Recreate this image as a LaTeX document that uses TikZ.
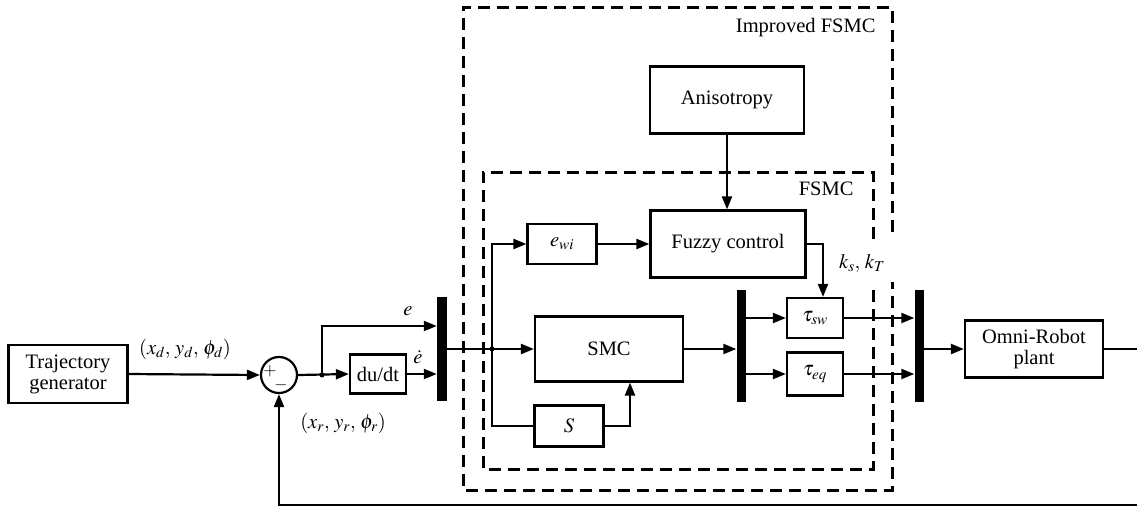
\documentclass[tikz,border=0pt]{standalone}
\usepackage{amsmath}
\usepackage{mathptmx}
\usepackage[no-math]{fontspec}
\setmainfont{Liberation Serif}
\usetikzlibrary{arrows.meta}

\tikzset{
  blk/.style={draw, line width=2.2pt, inner sep=0pt, align=center},
  bar/.style={fill=black, inner sep=0pt, minimum width=9pt},
  sig/.style={line width=2.2pt, -{Triangle[length=13pt,width=10pt]}},
  wire/.style={line width=2.2pt},
  frame/.style={line width=3pt, dash pattern=on 12pt off 7pt},
  every node/.style={font=\fontsize{20.5}{24}\selectfont}
}

\begin{document}
\begin{tikzpicture}[x=1pt, y=-1pt]
        \useasboundingbox (0,0) rectangle (1137,507);

        % dashed frames (open where k_s, k_T passes)
        \draw[frame] (892,232) -- (892,7) -- (463,7) -- (463,490) -- (892,490) -- (892,282);
        \draw[frame] (873,239) -- (873,172) -- (483,172) -- (483,469) -- (873,469) -- (873,285);
        \node[anchor=east] (lblimp) at (879,28) {Improved FSMC};
        \node[anchor=east] (lblfsmc) at (857,189) {FSMC};

        % blocks
        \node[blk, minimum width=119pt, minimum height=58pt] (traj) at (68,374) {Trajectory\\[-3pt]generator};
        \node[draw, circle, line width=2.2pt, minimum size=36pt, inner sep=0pt] (sum) at (279,375) {};
        \node[font=\fontsize{17}{20}\selectfont, inner sep=0pt] (plus) at (270,371) {$+$};
        \node[font=\fontsize{17}{20}\selectfont, inner sep=0pt] (minus) at (281,385) {$-$};
        \node[blk, minimum width=56pt, minimum height=39pt] (du) at (378,374) {du/dt};
        \node[bar, minimum width=10pt, minimum height=104pt] (mux1) at (442,349) {};

        \node[blk, minimum width=154pt, minimum height=67pt] (aniso) at (727,100) {Anisotropy};
        \node[blk, minimum width=69pt, minimum height=40pt] (ewi) at (562,244) {$e_{wi}$};
        \node[blk, minimum width=155pt, minimum height=67pt] (fuzzy) at (728,244) {Fuzzy control};
        \node[blk, minimum width=148pt, minimum height=65pt] (smc) at (609,349) {SMC};
        \node[blk, minimum width=69pt, minimum height=41pt] (S) at (569,426) {$S$};
        \node[bar, minimum height=112pt] (mux2) at (741,346) {};
        \node[blk, minimum width=56pt, minimum height=40pt] (tsw) at (815,318) {$\tau_{sw}$};
        \node[blk, minimum width=56pt, minimum height=43pt] (teq) at (815,374) {$\tau_{eq}$};
        \node[bar, minimum height=112pt] (mux3) at (919,346) {};
        \node[blk, minimum width=138pt, minimum height=57pt] (plant) at (1034,349) {Omni-Robot\\[-3pt]plant};

        \coordinate (br1) at (322,375);
        \coordinate (br2) at (492,349);
        \coordinate (out) at (1137,349);
        \coordinate (fb) at (1137,505);

        % signals
        \draw[sig] (traj.east) -- (sum.west);
        \node (lbld) at (185,349) {$(x_d,\,y_d,\,\phi_d)$};
        \draw[sig] (sum.east) -- (du.west);
        \fill (br1) circle (2.5pt);
        \draw[sig] (br1) |- ([yshift=23pt]mux1.west);
        \node[inner sep=1pt] (lble) at (408,311) {$e$};
        \draw[sig] (du.east) -- (du.east -| mux1.west);
        \node[inner sep=1pt] (lbledot) at (418,357) {$\dot{e}$};
        \draw[sig] (mux1.east) -- (smc.west);
        \fill (br2) circle (2.5pt);
        \draw[sig] (br2) |- (ewi.west);
        \draw[wire] (br2) |- (S.west);
        \draw[sig] (ewi.east) -- (fuzzy.west);
        \draw[sig] (S.east) -| ([xshift=21pt]smc.south);
        \draw[sig] (aniso.south) -- (aniso.south |- fuzzy.north);
        \draw[sig] (fuzzy.east) -| ([xshift=8pt]tsw.north);
        \node (kst) at (862,263) {$k_s,\,k_T$};
        \draw[sig] (smc.east) -- (smc.east -| mux2.west);
        \draw[sig] (tsw.west -| mux2.east) -- (tsw.west);
        \draw[sig] (teq.west -| mux2.east) -- (teq.west);
        \draw[sig] (tsw.east) -- (tsw.east -| mux3.west);
        \draw[sig] (teq.east) -- (teq.east -| mux3.west);
        \draw[sig] (mux3.east |- plant.west) -- (plant.west);
        \draw[wire] (plant.east) -- (out);
        \draw[sig] (fb) -| (sum.south);
        \node (lblr) at (343,423) {$(x_r,\,y_r,\,\phi_r)$};

    \end{tikzpicture}
\end{document}
